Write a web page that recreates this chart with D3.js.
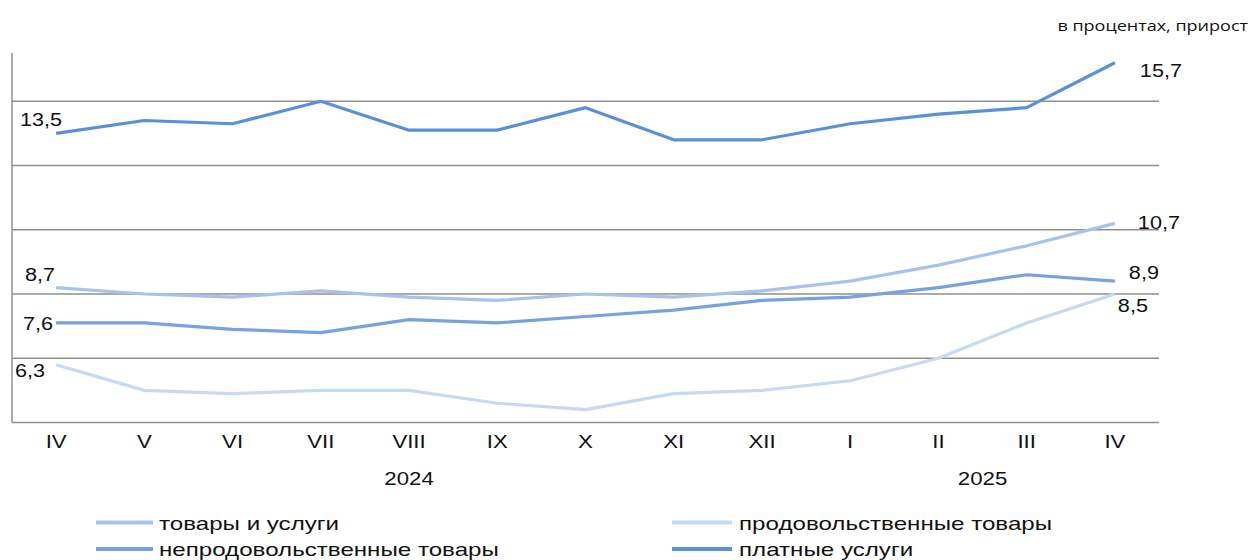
<!DOCTYPE html>
<html>
<head>
<meta charset="utf-8">
<script src="https://cdn.jsdelivr.net/npm/d3@7"></script>
<style>
  html, body { margin: 0; padding: 0; background: #fff; }
  svg { display: block; font-family: "Liberation Sans", Arial, sans-serif; }
</style>
</head>
<body>
<svg id="chart"></svg>
<script>
// Data
const months = ['IV', 'V', 'VI', 'VII', 'VIII', 'IX', 'X', 'XI', 'XII', 'I', 'II', 'III', 'IV'];
const yearLabels = ['2024', '2025'];
const yearFirst = [0, 9]; // index of first month of the year
const yearLast = [8, 12]; // index of last month of the year

const goodsServices = [8.7, 8.5, 8.4, 8.6, 8.4, 8.3, 8.5, 8.4, 8.6, 8.9, 9.4, 10.0, 10.7];
const foodGoods = [6.3, 5.5, 5.4, 5.5, 5.5, 5.1, 4.9, 5.4, 5.5, 5.8, 6.5, 7.6, 8.5];
const nonFoodGoods = [7.6, 7.6, 7.4, 7.3, 7.7, 7.6, 7.8, 8.0, 8.3, 8.4, 8.7, 9.1, 8.9];
const paidServices = [13.5, 13.9, 13.8, 14.5, 13.6, 13.6, 14.3, 13.3, 13.3, 13.8, 14.1, 14.3, 15.7];

const seriesNames = ['товары и услуги', 'продовольственные товары', 'непродовольственные товары', 'платные услуги'];
const gridValues = [4.5, 6.5, 8.5, 10.5, 12.5, 14.5];
const yDomain = [4.5, 16.5];
const axisTop = 16;
const unitLabel = 'в процентах, прирост';

//
// Chart setup
//
const width = 1255;
const height = 560;
const margin = { top: 37, right: 96, bottom: 137.5, left: 12 };
const stretch = 1.2; // the reference text is drawn horizontally wide
const legendStretch = 1.27;

const series = [
  { name: seriesNames[0], values: goodsServices, color: '#a7c3eb', first: [-1, -6.6, 'end'], last: [23, 6, 'start'] },
  { name: seriesNames[1], values: foodGoods, color: '#c6d9f2', first: [-11, 12, 'end'], last: [3, 18, 'start'] },
  { name: seriesNames[2], values: nonFoodGoods, color: '#76a3df', first: [-3, 6.6, 'end'], last: [14, -2, 'start'] },
  { name: seriesNames[3], values: paidServices, color: '#5a90d9', first: [6, -7, 'end'], last: [25, 14, 'start'] }
];

const locale = d3.formatLocale({ decimal: ',', thousands: ' ', grouping: [3], currency: ['', ''] });
const fmt = locale.format('.1f');

const xScale = d3.scaleBand(d3.range(months.length), [margin.left, width - margin.right]);
const cx = i => xScale(i) + xScale.bandwidth() / 2;
const yScale = d3.scaleLinear(yDomain, [height - margin.bottom, margin.top]);

const svg = d3.select('#chart')
  .attr('width', width)
  .attr('height', height)
  .attr('viewBox', [0, 0, width, height]);

// Gridlines (the lowest one is the category axis)
svg.append('g')
  .selectAll('line')
  .data(gridValues)
  .join('line')
    .attr('x1', margin.left)
    .attr('x2', width - margin.right)
    .attr('y1', d => yScale(d))
    .attr('y2', d => yScale(d))
    .attr('stroke', '#8f8f8f')
    .attr('stroke-width', 1.5);

// Vertical axis line
svg.append('line')
  .attr('x1', margin.left)
  .attr('x2', margin.left)
  .attr('y1', yScale(axisTop))
  .attr('y2', yScale(yDomain[0]))
  .attr('stroke', '#8f8f8f')
  .attr('stroke-width', 1.5);

// Month labels
const xAxis = svg.append('g')
  .attr('transform', `translate(0,${yScale(yDomain[0])})`)
  .call(d3.axisBottom(xScale).tickSize(0).tickPadding(12).tickFormat(i => months[i]));
xAxis.select('.domain').remove();
xAxis.selectAll('text')
  .attr('class', 'stretch')
  .attr('font-family', '"Liberation Sans", Arial, sans-serif')
  .attr('font-size', 18.5)
  .attr('fill', '#111');

// Year labels
svg.append('g')
  .selectAll('text')
  .data(yearLabels)
  .join('text')
    .attr('class', 'stretch')
    .attr('text-anchor', 'middle')
    .attr('x', (d, k) => (cx(yearFirst[k]) + cx(yearLast[k])) / 2)
    .attr('y', yScale(yDomain[0]) + 62.5)
    .attr('font-size', 18.5)
    .attr('fill', '#111')
    .text(d => d);

// Lines
const line = d3.line()
  .x((d, i) => cx(i))
  .y(d => yScale(d));

svg.append('g')
  .selectAll('path')
  .data(series)
  .join('path')
    .attr('fill', 'none')
    .attr('stroke', s => s.color)
    .attr('stroke-width', 3.2)
    .attr('stroke-linejoin', 'round')
    .attr('d', s => line(s.values));

// End labels
const endLabels = series.flatMap(s => {
  const n = s.values.length - 1;
  return [
    { i: 0, v: s.values[0], off: s.first },
    { i: n, v: s.values[n], off: s.last }
  ];
});

svg.append('g')
  .selectAll('text')
  .data(endLabels)
  .join('text')
    .attr('class', 'stretch')
    .attr('text-anchor', d => d.off[2])
    .attr('x', d => cx(d.i) + d.off[0])
    .attr('y', d => yScale(d.v) + d.off[1])
    .attr('font-size', 18)
    .attr('fill', '#111')
    .text(d => fmt(d.v));

// Unit caption
svg.append('text')
  .attr('class', 'stretch')
  .attr('text-anchor', 'end')
  .attr('x', width - 7)
  .attr('y', 31)
  .attr('font-family', '"Open Sans", sans-serif')
  .attr('font-size', 15)
  .attr('fill', '#111')
  .text(unitLabel);

// Legend (two columns, filled row by row)
const legend = svg.append('g')
  .selectAll('g')
  .data(series)
  .join('g')
    .attr('transform', (s, k) => `translate(${k % 2 ? 672 : 96},${522.5 + Math.floor(k / 2) * 26.5})`);

legend.append('line')
  .attr('x1', 0)
  .attr('x2', (s, k) => k % 2 ? 60 : 57)
  .attr('stroke', s => s.color)
  .attr('stroke-width', 4);

legend.append('text')
  .attr('class', 'legend-text')
  .attr('x', (s, k) => k % 2 ? 67 : 63)
  .attr('y', 7)
  .attr('font-size', 19)
  .attr('fill', '#111')
  .text(s => s.name);

// Widen every text horizontally to match the reference rendering
const widen = (sel, factor) => sel.each(function() {
  const w = this.getComputedTextLength();
  d3.select(this)
    .attr('textLength', w * factor)
    .attr('lengthAdjust', 'spacingAndGlyphs');
});
widen(svg.selectAll('text.stretch'), stretch);
widen(svg.selectAll('text.legend-text'), legendStretch);
</script>
</body>
</html>
